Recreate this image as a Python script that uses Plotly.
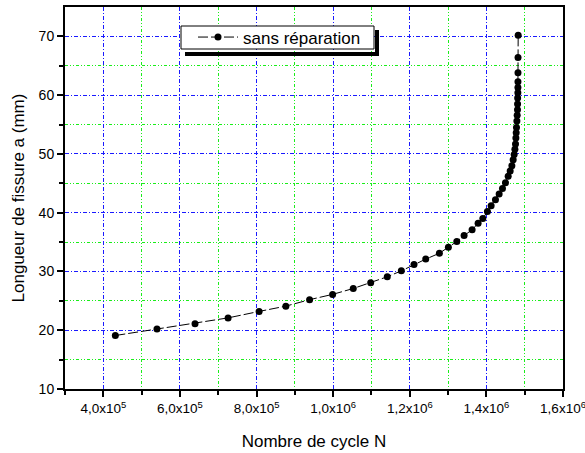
import plotly.graph_objects as go

# Data
N_cycles = [4.314e5, 5.401e5, 6.394e5, 7.257e5, 8.067e5, 8.765e5, 9.385e5, 9.986e5,
            1.0525e6, 1.098e6, 1.1413e6, 1.178e6, 1.2111e6, 1.2417e6, 1.2773e6, 1.3008e6,
            1.3228e6, 1.3418e6, 1.3627e6, 1.3784e6, 1.3907e6, 1.4027e6, 1.4124e6, 1.4237e6,
            1.4333e6, 1.4420e6, 1.4498e6, 1.4569e6, 1.4621e6, 1.4665e6, 1.4699e6, 1.4725e6,
            1.4744e6, 1.4760e6, 1.4770e6, 1.4778e6, 1.4786e6, 1.4796e6, 1.4804e6, 1.4812e6,
            1.4814e6, 1.4816e6, 1.4822e6, 1.4823e6, 1.4824e6, 1.4825e6, 1.4826e6, 1.4830e6]
a_mm = [19.1, 20.2, 21.1, 22.1, 23.2, 24.1, 25.2, 26.1,
        27.1, 28.1, 29.1, 30.1, 31.2, 32.1, 33.1, 34.1,
        35.1, 36.1, 37.1, 38.2, 39.0, 40.2, 41.2, 42.2,
        43.2, 44.1, 45.1, 46.2, 47.1, 48.0, 49.0, 49.9,
        50.8, 51.7, 52.7, 53.6, 54.5, 55.6, 56.6, 57.5,
        58.5, 59.5, 60.4, 61.3, 62.3, 63.8, 66.4, 70.2]

series_name = "sans réparation"
x_tickvals = [4e5, 6e5, 8e5, 1.0e6, 1.2e6, 1.4e6, 1.6e6]
x_ticktext = ["4,0x10<sup>5</sup>", "6,0x10<sup>5</sup>", "8,0x10<sup>5</sup>",
              "1,0x10<sup>6</sup>", "1,2x10<sup>6</sup>", "1,4x10<sup>6</sup>",
              "1,6x10<sup>6</sup>"]
x_minor = [3e5, 5e5, 7e5, 9e5, 1.1e6, 1.3e6, 1.5e6]
y_tickvals = [10, 20, 30, 40, 50, 60, 70]
y_minor = [15, 25, 35, 45, 55, 65]

FONT = "Arial, Liberation Sans, sans-serif"

fig = go.Figure()
fig.add_trace(go.Scatter(
    x=N_cycles, y=a_mm, mode="lines+markers", name=series_name,
    line=dict(color="black", width=1, dash="10px,3px"),
    marker=dict(color="black", size=7, symbol="circle"),
))

W, H = 585, 453
ml, mr, mt, mb = 65, 22, 7, 64
pw, ph = W - ml - mr, H - mt - mb

def px_x(p):
    return (p - ml) / pw

def px_y(p):
    return 1 - (p - mt) / ph

major_grid = dict(color="#1a1aff", dash="4px,2px,1px,2px")
minor_grid = dict(color="#1aee1a", dash="3px,2px,1px,2px,1px,2px")

fig.update_layout(
    width=W, height=H,
    margin=dict(l=ml, r=mr, t=mt, b=mb, autoexpand=False),
    paper_bgcolor="white", plot_bgcolor="white",
    font=dict(family=FONT, color="black", size=14),
    showlegend=True,
    legend=dict(x=px_x(193), y=px_y(37.5),
                xanchor="left", yanchor="middle",
                bgcolor="rgba(0,0,0,0)", borderwidth=0,
                itemwidth=40,
                font=dict(size=17, family=FONT)),
    xaxis=dict(
        range=[3e5, 1.6e6], tickvals=x_tickvals, ticktext=x_ticktext,
        ticks="outside", ticklen=6, tickwidth=1.5, tickcolor="black",
        showline=True, linecolor="black", linewidth=2, mirror=True,
        showgrid=True, gridcolor=major_grid["color"], griddash=major_grid["dash"], gridwidth=1,
        zeroline=False, ticklabeloverflow="allow",
        tickfont=dict(size=13.5),
        minor=dict(tickvals=x_minor, ticks="outside", ticklen=4, tickcolor="black",
                   showgrid=True, gridcolor=minor_grid["color"], griddash=minor_grid["dash"],
                   gridwidth=1),
        title=dict(text="Nombre de cycle N", font=dict(size=17), standoff=20),
    ),
    yaxis=dict(
        range=[10, 75], tickvals=y_tickvals,
        ticks="outside", ticklen=6, tickwidth=1.5, tickcolor="black",
        showline=True, linecolor="black", linewidth=2, mirror=True,
        showgrid=True, gridcolor=major_grid["color"], griddash=major_grid["dash"], gridwidth=1,
        zeroline=False,
        tickfont=dict(size=14),
        minor=dict(tickvals=y_minor, ticks="outside", ticklen=4, tickcolor="black",
                   showgrid=True, gridcolor=minor_grid["color"], griddash=minor_grid["dash"],
                   gridwidth=1),
        title=dict(text="Longueur de fissure a (mm)", font=dict(size=17), standoff=10),
    ),
)

# legend frame with Origin-style drop shadow
fig.add_shape(type="rect", xref="paper", yref="paper",
              x0=px_x(185), x1=px_x(379), y0=px_y(56), y1=px_y(52),
              fillcolor="black", line=dict(width=0), layer="above")
fig.add_shape(type="rect", xref="paper", yref="paper",
              x0=px_x(375), x1=px_x(379), y0=px_y(56), y1=px_y(30),
              fillcolor="black", line=dict(width=0), layer="above")
fig.add_shape(type="rect", xref="paper", yref="paper",
              x0=px_x(181), x1=px_x(374), y0=px_y(49), y1=px_y(26),
              fillcolor="white", line=dict(color="black", width=1), layer="above")

fig.write_html("out.html")
